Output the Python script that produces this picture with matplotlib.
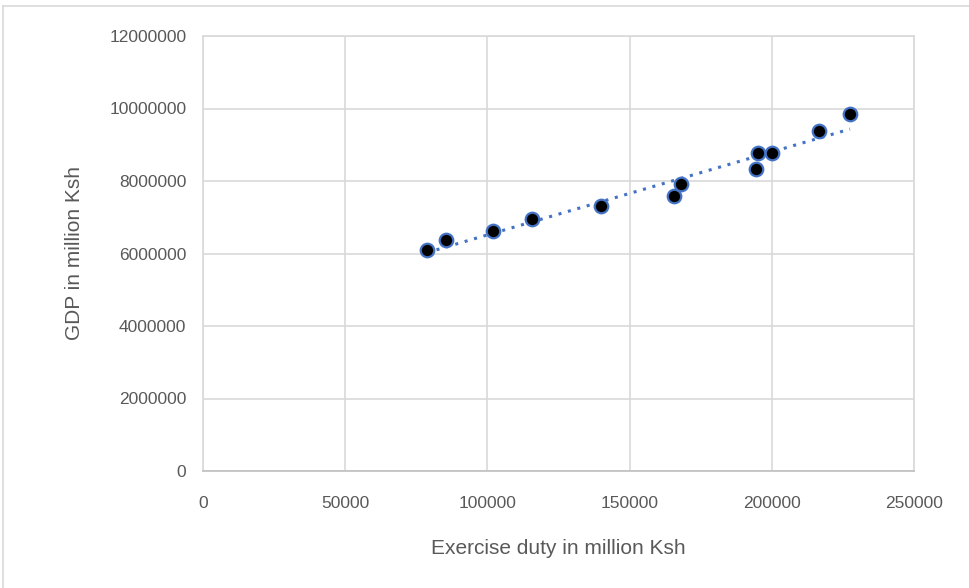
import matplotlib as mpl
mpl.use('Agg')
import matplotlib.pyplot as plt
import numpy as np

# excise duty (million Ksh) vs GDP (million Ksh)
duty = [78800, 85400, 102000, 115800, 140000, 165600, 168000,
        194500, 195300, 200000, 216600, 227500]
gdp = [6100000, 6370000, 6620000, 6950000, 7310000, 7590000, 7910000,
       8330000, 8760000, 8760000, 9390000, 9850000]

x_ticks = [0, 50000, 100000, 150000, 200000, 250000]
y_ticks = [0, 2000000, 4000000, 6000000, 8000000, 10000000, 12000000]

blue = '#4472C4'
grid = '#D9D9D9'
text = '#595959'


def main():
    plt.rcParams['font.family'] = ['Liberation Sans', 'DejaVu Sans']
    fig = plt.figure(figsize=(9.7, 5.88), dpi=100)

    # chart area border (only top and left are inside the picture)
    x0, y0 = 3.5 / 970, 1 - 5.5 / 588
    fig.add_artist(mpl.lines.Line2D([x0, 1], [y0, y0], color=grid,
                                    linewidth=1.2))
    fig.add_artist(mpl.lines.Line2D([x0, x0], [0, y0], color=grid,
                                    linewidth=1.2))

    ax = fig.add_axes([203 / 970, 117 / 588, 711 / 970, 435 / 588])
    ax.set_xlim(0, 250000)
    ax.set_ylim(0, 12000000)
    ax.set_xticks(x_ticks)
    ax.set_yticks(y_ticks)
    ax.set_xticklabels([str(t) for t in x_ticks])
    ax.set_yticklabels([str(t) for t in y_ticks])
    ax.grid(True, color=grid, linewidth=1.2)
    ax.set_axisbelow(True)
    for s in ax.spines.values():
        s.set_color(grid)
        s.set_linewidth(1.2)
    ax.spines['bottom'].set_color('#BFBFBF')
    ax.tick_params(length=0, labelsize=12.5, colors=text)
    ax.tick_params(axis='x', pad=18)
    ax.tick_params(axis='y', pad=12)

    # linear trendline
    k, b = np.polyfit(duty, gdp, 1)
    xs = np.array([min(duty), max(duty)])
    ax.plot(xs, k * xs + b, linestyle=(0, (1, 2.2)), color=blue,
            linewidth=2.2, zorder=2)

    ax.scatter(duty, gdp, s=95, c='black', edgecolors=blue, linewidths=1.6,
               zorder=3)

    ax.set_xlabel('Exercise duty in million Ksh', fontsize=15, color=text,
                  labelpad=20)
    ax.set_ylabel('GDP in million Ksh', fontsize=15, color=text, labelpad=18)

    fig.savefig('out.png', dpi=100)


if __name__ == '__main__':
    main()
